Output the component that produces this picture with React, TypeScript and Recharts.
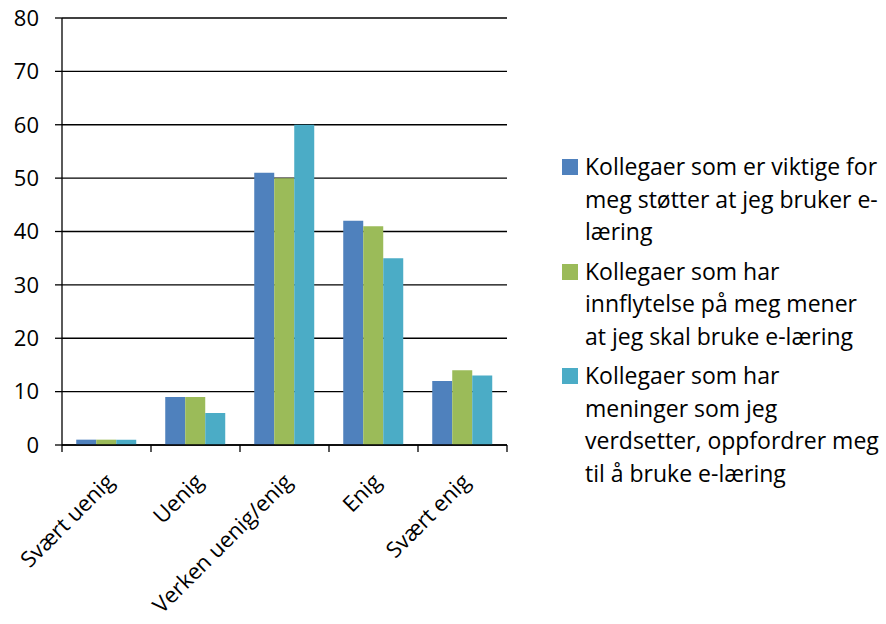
import React from "react";
import { BarChart, Bar, XAxis, YAxis, CartesianGrid } from "recharts";

const categories = ["Svært uenig", "Uenig", "Verken uenig/enig", "Enig", "Svært enig"];
// legend labels, broken into lines the way the original wraps them
const seriesLabelLines = [
  ["Kollegaer som er viktige for", "meg støtter at jeg bruker e-", "læring"],
  ["Kollegaer som har", "innflytelse på meg mener", "at jeg skal bruke e-læring"],
  ["Kollegaer som har", "meninger som jeg", "verdsetter, oppfordrer meg", "til å bruke e-læring"],
];
const seriesA = [1, 9, 51, 42, 12];
const seriesB = [1, 9, 50, 41, 14];
const seriesC = [1, 6, 60, 35, 13];
const yTicks = [0, 10, 20, 30, 40, 50, 60, 70, 80];
const colors = ["#4F81BD", "#9BBB59", "#4BACC6"];

const data = categories.map((name, i) => ({ name, a: seriesA[i], b: seriesB[i], c: seriesC[i] }));
const seriesNames = seriesLabelLines.map((l) => l.join(" "));

const FONT = "'Open Sans', sans-serif";
const PLOT_LEFT = 62;
const PLOT_RIGHT = 507;
const BAND = (PLOT_RIGHT - PLOT_LEFT) / categories.length;

function CategoryTick(props: any) {
  const { x, y, payload, index } = props;
  const ax = x + 9;
  const ay = y + 30;
  const lineY = y - 8;
  return (
    <g>
      <line x1={x - BAND / 2} y1={lineY} x2={x - BAND / 2} y2={lineY + 7} stroke="#000" strokeWidth={1.3} />
      {index === categories.length - 1 && (
        <line x1={x + BAND / 2} y1={lineY} x2={x + BAND / 2} y2={lineY + 7} stroke="#000" strokeWidth={1.3} />
      )}
      <text
        x={ax}
        y={ay}
        transform={`rotate(-45, ${ax}, ${ay})`}
        textAnchor="end"
        fontFamily={FONT}
        fontSize={22}
        fill="#000"
      >
        {payload.value}
      </text>
    </g>
  );
}

export default function App() {
  return (
    <div style={{ position: "absolute", left: 0, top: 0, width: 886, height: 624, background: "#fff" }}>
      <BarChart
        width={886}
        height={624}
        data={data}
        margin={{ top: 18, right: 886 - PLOT_RIGHT, bottom: 0, left: 0 }}
        barCategoryGap="16%"
        barGap={0}
      >
        <CartesianGrid vertical={false} stroke="#000" strokeWidth={1.3} />
        <XAxis
          dataKey="name"
          interval={0}
          height={624 - 18 - 427}
          axisLine={{ stroke: "#000", strokeWidth: 1.3 }}
          tickLine={false}
          tick={<CategoryTick />}
        />
        <YAxis
          width={PLOT_LEFT}
          domain={[0, 80]}
          ticks={yTicks}
          interval={0}
          axisLine={{ stroke: "#000", strokeWidth: 1.3 }}
          tickLine={{ stroke: "#000", strokeWidth: 1.3 }}
          tickSize={7}
          tickMargin={16}
          tick={{ fill: "#000", fontSize: 22, fontFamily: FONT }}
        />
        <Bar dataKey="a" name={seriesNames[0]} fill={colors[0]} isAnimationActive={false} />
        <Bar dataKey="b" name={seriesNames[1]} fill={colors[1]} isAnimationActive={false} />
        <Bar dataKey="c" name={seriesNames[2]} fill={colors[2]} isAnimationActive={false} />
      </BarChart>
      <div style={{ position: "absolute", left: 562, top: 150, fontFamily: FONT, fontSize: 23, lineHeight: "32.5px", color: "#000", whiteSpace: "nowrap" }}>
        {seriesLabelLines.map((lines, i) => (
          <div key={i} style={{ display: "flex", alignItems: "flex-start", marginBottom: 7 }}>
            <span style={{ width: 16, height: 16, background: colors[i], marginTop: 9, marginRight: 7, flex: "none" }} />
            <span>
              {lines.map((l, j) => (
                <div key={j}>{l}</div>
              ))}
            </span>
          </div>
        ))}
      </div>
    </div>
  );
}
